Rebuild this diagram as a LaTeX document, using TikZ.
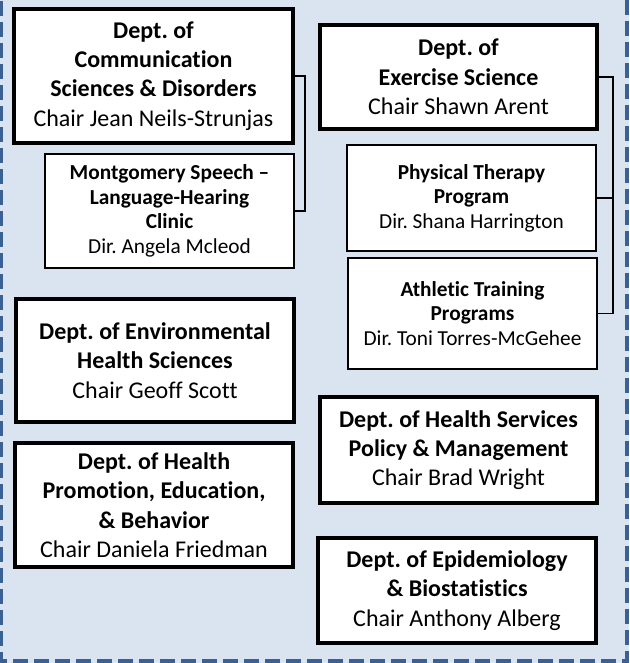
\documentclass[tikz,border=0pt]{standalone}
\usepackage{fontspec}
\setmainfont{Carlito}[Ligatures=NoCommon]
\usetikzlibrary{fit}
\definecolor{bgblue}{HTML}{DAE3F0}
\definecolor{frameblue}{HTML}{3A6094}
\begin{document}
\begin{tikzpicture}[x=0.75pt,y=-0.75pt,
  thickbox/.style={draw=black, line width=3pt, fill=white, inner sep=0pt, outer sep=0pt, align=center, font=\fontsize{18}{22}\selectfont},
  thinbox/.style={draw=black, line width=1.5pt, fill=white, inner sep=0pt, outer sep=0pt, align=center, font=\fontsize{16}{18.4}\selectfont},
  link/.style={draw=black, line width=1.1pt}]
\useasboundingbox (0,0) rectangle (629,663);
\fill[bgblue] (0,0) rectangle (629,663);
\draw[frameblue, line width=3pt, dash pattern=on 11.25pt off 4.5pt] (1,-20) -- (1,661) -- (627,661) -- (627,-20);

\node[thickbox, minimum width=209.25pt, minimum height=100.5pt] (csd) at (153.5,76) {\textbf{Dept.\ of}\\\textbf{Communication}\\\textbf{Sciences \& Disorders}\\Chair Jean Neils-Strunjas};
\node[thinbox, minimum width=186.75pt, minimum height=85.5pt] (mslhc) at (169.5,211) {\textbf{Montgomery Speech –}\\\textbf{Language-Hearing}\\\textbf{Clinic}\\Dir.\ Angela Mcleod};
\node[thickbox, minimum width=207.75pt, minimum height=78pt] (es) at (458.5,77) {\textbf{Dept.\ of}\\\textbf{Exercise Science}\\Chair Shawn Arent};
\node[thinbox, minimum width=186.75pt, minimum height=79.5pt] (ptp) at (471.5,198) {\textbf{Physical Therapy}\\\textbf{Program}\\Dir.\ Shana Harrington};
\node[thinbox, minimum width=186.75pt, minimum height=83.25pt] (atp) at (472.5,313.5) {\textbf{Athletic Training}\\\textbf{Programs}\\Dir.\ Toni Torres-McGehee};
\node[thickbox, minimum width=208.5pt, minimum height=92.25pt] (ehs) at (155,360.5) {\textbf{Dept.\ of Environmental}\\\textbf{Health Sciences}\\Chair Geoff Scott};
\node[thickbox, minimum width=208.5pt, minimum height=93pt] (hpeb) at (154,505) {\textbf{Dept.\ of Health}\\\textbf{Promotion, Education,}\\\textbf{\& Behavior}\\Chair Daniela Friedman};
\node[thickbox, minimum width=207.75pt, minimum height=79.5pt] (hspm) at (458.5,450) {\textbf{Dept.\ of Health Services}\\\textbf{Policy \& Management}\\Chair Brad Wright};
\node[thickbox, minimum width=208.5pt, minimum height=78.75pt] (eb) at (457,590.5) {\textbf{Dept.\ of Epidemiology}\\\textbf{\& Biostatistics}\\Chair Anthony Alberg};

\draw[link] (csd.east) -- ++(12,0) coordinate (j1) |- (mslhc.east);
\draw[link] (es.east) -- ++(16,0) coordinate (j2) |- (atp.east);
\draw[link] (ptp.east) -- (ptp.east -| j2);
\end{tikzpicture}
\end{document}
